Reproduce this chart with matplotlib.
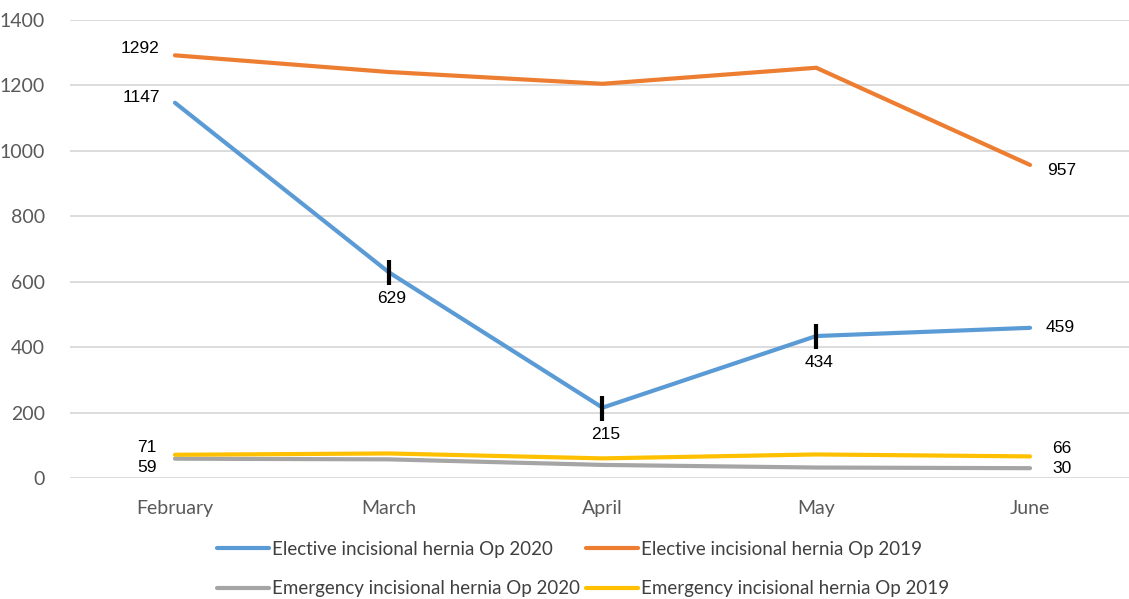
import matplotlib
matplotlib.use("Agg")
import matplotlib.pyplot as plt

months = ["February", "March", "April", "May", "June"]
elective_2020 = [1147, 629, 215, 434, 459]
elective_2019 = [1292, 1241, 1205, 1254, 957]
emergency_2020 = [59, 57, 40, 32, 30]
emergency_2019 = [71, 75, 60, 72, 66]
y_ticks = [0, 200, 400, 600, 800, 1000, 1200, 1400]

fig = plt.figure(figsize=(11.29, 5.99), dpi=100)
ax = fig.add_axes([70/1129, 1-478/599, 1-70/1129, (478-20)/599])

x = list(range(len(months)))
lw = 3.0
l1, = ax.plot(x, elective_2020, color="#5B9BD5", lw=lw, solid_capstyle="round", zorder=3)
l2, = ax.plot(x, elective_2019, color="#ED7D31", lw=lw, solid_capstyle="round", zorder=3)
l3, = ax.plot(x, emergency_2020, color="#A5A5A5", lw=lw, solid_capstyle="round", zorder=3)
l4, = ax.plot(x, emergency_2019, color="#FFC000", lw=lw, solid_capstyle="round", zorder=4)

# black marks on the 2020 elective line
ax.plot(x[1:4], elective_2020[1:4], ls="none", marker="|", ms=18, mew=3, color="black", zorder=5)

lab = dict(fontsize=12.5, color="black", family="Liberation Sans", textcoords="offset points",
           ha="center", va="center")
ax.annotate(str(elective_2019[0]), (x[0], elective_2019[0]), xytext=(-25, 5), **lab)
ax.annotate(str(elective_2020[0]), (x[0], elective_2020[0]), xytext=(-24, 4), **lab)
ax.annotate(str(elective_2019[4]), (x[4], elective_2019[4]), xytext=(23, -4), **lab)
ax.annotate(str(elective_2020[4]), (x[4], elective_2020[4]), xytext=(22, 0), **lab)
for i in range(1, 4):
    ax.annotate(str(elective_2020[i]), (x[i], elective_2020[i]), xytext=(2, -19), **lab)
ax.annotate(str(emergency_2019[0]), (x[0], emergency_2019[0]), xytext=(-20, 5), **lab)
ax.annotate(str(emergency_2020[0]), (x[0], emergency_2020[0]), xytext=(-20, -6), **lab)
ax.annotate(str(emergency_2019[4]), (x[4], emergency_2019[4]), xytext=(23, 6), **lab)
ax.annotate(str(emergency_2020[4]), (x[4], emergency_2020[4]), xytext=(23, 0), **lab)

ax.set_xlim(-0.491, 4.463)
ax.set_ylim(0, 1400)
ax.set_yticks(y_ticks)
ax.set_xticks(x)
ax.set_xticklabels(months)
ax.grid(axis="y", color="#D9D9D9", lw=1.3)
ax.set_axisbelow(True)
for s in ax.spines.values():
    s.set_visible(False)
ax.tick_params(length=0, colors="#595959", labelsize=14)
ax.tick_params(axis="y", pad=18)
ax.tick_params(axis="x", pad=16)
for t in ax.get_xticklabels() + ax.get_yticklabels():
    t.set_family("Lato")

# legend is filled column by column, so order gives two rows: elective, emergency
leg = fig.legend([l1, l3, l2, l4],
                 ["Elective incisional hernia Op 2020", "Emergency incisional hernia Op 2020",
                  "Elective incisional hernia Op 2019", "Emergency incisional hernia Op 2019"],
                 ncol=2, loc="center", bbox_to_anchor=(583/1129, 1-569/599),
                 frameon=False, handlelength=2.8, handletextpad=0.15, columnspacing=0.3,
                 labelspacing=1.2, prop={"family": "Lato", "size": 13.5})
for t in leg.get_texts():
    t.set_color("#404040")

fig.savefig("out.png", dpi=100)
